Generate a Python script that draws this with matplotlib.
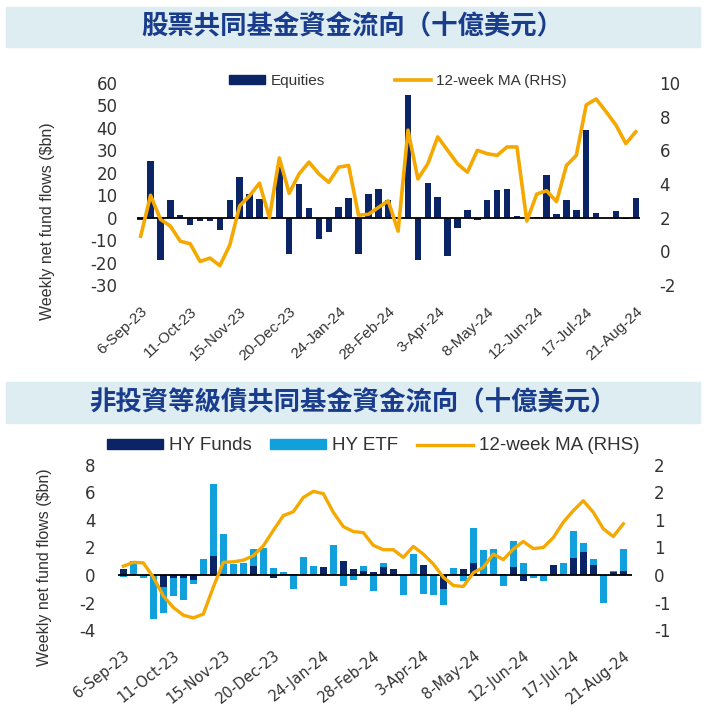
import numpy as np
import pandas as pd
from matplotlib import pyplot as plt
from matplotlib.patches import Rectangle
from matplotlib.lines import Line2D
from matplotlib.patches import Patch

plt.rcParams['axes.unicode_minus'] = False

# weekly dates, 6-Sep-23 .. 21-Aug-24
weeks = pd.date_range('2023-09-06', periods=51, freq='7D')
tick_labels = ['6-Sep-23', '11-Oct-23', '15-Nov-23', '20-Dec-23', '24-Jan-24', '28-Feb-24',
               '3-Apr-24', '8-May-24', '12-Jun-24', '17-Jul-24', '21-Aug-24']

# equity fund flows ($bn) and 12-week MA (RHS)
equities = [-1.2, 25.4, -18.7, 7.8, 1.2, -3.3, -1.5, -1.5, -5.4, 7.8,
            18.2, 10.7, 8.2, 0.5, 22.4, -16.4, 14.9, 4.5, -9.4, -6.4,
            4.9, 8.8, -16.4, 10.4, 12.7, 7.8, 0.3, 54.5, -18.7, 15.4,
            9.3, -17.2, -4.5, 3.6, -1.2, 7.8, 12.2, 12.8, 0.7, -0.3,
            0.2, 19.0, 1.5, 7.9, 3.3, 39.0, 2.2, -0.3, 3.0, -0.5, 8.7]
equities_ma = [0.9, 3.33, 1.9, 1.5, 0.6, 0.45, -0.6, -0.4, -0.85, 0.37,
               2.7, 3.3, 4.05, 2.0, 5.55, 3.45, 4.6, 5.3, 4.6, 4.1,
               5.0, 5.1, 2.15, 2.2, 2.6, 3.0, 1.2, 7.2, 4.3, 5.2,
               6.8, 6.0, 5.2, 4.7, 6.0, 5.8, 5.7, 6.2, 6.2, 1.8,
               3.4, 3.6, 2.95, 5.1, 5.7, 8.7, 9.05, 8.3, 7.5, 6.4, 7.1]

# high yield flows ($bn)
hy_funds = [0.45, 0.05, -0.05, -0.1, -0.9, -0.25, -0.25, -0.35, 0.05, 1.4,
            0.05, 0.1, 0.05, 0.68, 0.1, -0.2, 0.1, 0.1, 0.05, 0.1,
            0.6, 0.05, 1.0, 0.45, 0.3, 0.2, 0.55, 0.45, -0.05, 0.05,
            0.73, -0.05, -1.0, 0.1, 0.45, 0.85, 0.1, 0.05, 0.1, 0.6,
            -0.45, -0.05, -0.05, 0.73, 0.05, 1.25, 1.7, 0.73, -0.05, 0.25, 0.3]
hy_etf = [-0.15, 1.0, -0.15, -3.1, -1.85, -1.25, -1.55, -0.3, 1.1, 5.2,
          2.95, 0.7, 0.8, 1.2, 1.85, 0.5, 0.15, -1.05, 1.25, 0.55,
          0.0, 2.15, -0.8, -0.35, 0.38, -1.15, 0.35, -0.1, -1.4, 1.45,
          -1.4, -1.4, -1.2, 0.4, -0.4, 2.55, 1.75, 1.85, -0.8, 1.9,
          0.9, -0.2, -0.35, 0.0, 0.8, 1.95, 0.63, 0.42, -2.0, 0.05, 1.6]
hy_ma = [0.16, 0.23, 0.22, -0.04, -0.38, -0.59, -0.73, -0.78, -0.71, -0.22,
         0.23, 0.24, 0.27, 0.35, 0.53, 0.81, 1.08, 1.15, 1.41, 1.52,
         1.48, 1.14, 0.88, 0.79, 0.77, 0.54, 0.46, 0.46, 0.32, 0.52,
         0.38, 0.2, -0.04, -0.19, -0.21, 0.04, 0.14, 0.38, 0.28, 0.47,
         0.61, 0.48, 0.5, 0.68, 0.96, 1.17, 1.35, 1.14, 0.84, 0.7, 0.93]

navy = '#0b2466'
sky = '#12a0dc'
gold = '#f5a800'
title_col = '#1a3c8c'
banner_col = '#deedf2'
txt = '#333333'
sans = ['Liberation Sans', 'DejaVu Sans']
cjk = ['Noto Sans CJK TC', 'DejaVu Sans']

fig = plt.figure(figsize=(7.05, 7.11), dpi=100)
W, H = 705, 711


def fx(px):
    return px / W


def fy(py):
    return 1 - py / H


# title banners
for top, bot, title in [(7, 47, '股票共同基金資金流向（十億美元）'),
                        (382, 423, '非投資等級債共同基金資金流向（十億美元）')]:
    fig.patches.append(Rectangle((fx(6), fy(bot)), fx(694), (bot - top) / H,
                                 transform=fig.transFigure, color=banner_col, zorder=0))
    fig.text(0.5, fy((top + bot) / 2), title, ha='center', va='center', fontsize=19,
             fontweight='bold', color=title_col, family=cjk)

x = np.arange(len(weeks))

# ---- top chart: equities ----
ax1 = fig.add_axes([fx(137), fy(285), fx(640 - 137), (285 - 83) / H])
ax1.bar(x, equities, width=0.65, color=navy, zorder=2)
ax1.axhline(0, color='black', lw=1.3, zorder=3)
ax1.set_ylim(-30, 60)
ax1.set_yticks(range(-30, 61, 10))
ax1.set_xlim(-0.37, 50.43)
ax1b = ax1.twinx()
ax1b.plot(x, equities_ma, color=gold, lw=2.6, zorder=4)
ax1b.set_ylim(-2, 10)
ax1b.set_yticks(range(-2, 11, 2))

# ---- bottom chart: high yield ----
ax2 = fig.add_axes([fx(118), fy(630), fx(632 - 118), (630 - 465) / H])
funds = np.array(hy_funds)
etf = np.array(hy_etf)
etf_base = np.where(np.sign(etf) == np.sign(funds), funds, 0)
ax2.bar(x, funds, width=0.7, color=navy, zorder=3)
ax2.bar(x, etf, bottom=etf_base, width=0.7, color=sky, zorder=2)
ax2.axhline(0, color='black', lw=1.3, zorder=4)
ax2.set_ylim(-4, 8)
ax2.set_yticks(range(-4, 9, 2))
ax2.set_xlim(-0.53, 50.87)
ax2b = ax2.twinx()
ax2b.plot(x, hy_ma, color=gold, lw=2.4, zorder=5)
ax2b.set_ylim(-1, 2)
ax2b.set_yticks(np.arange(-1, 2.01, 0.5))
ax2b.set_yticklabels(['-1', '-1', '0', '1', '1', '2', '2'])

for a in [ax1, ax1b, ax2, ax2b]:
    for s in a.spines.values():
        s.set_visible(False)
    a.tick_params(length=0, colors=txt)

for a, pad, rot, fs, fam in [(ax1, 14, 43, 11, sans),
                             (ax2, 13, 38, 10.5, ['DejaVu Sans'])]:
    a.set_xticks(x[::5])
    a.set_xticklabels(tick_labels, rotation=rot, ha='right', va='top',
                      rotation_mode='anchor', fontsize=fs, color=txt, family=fam)
    a.tick_params(axis='x', pad=pad)

for lab in ax1.get_yticklabels() + ax1b.get_yticklabels():
    lab.set_fontsize(12)
ax1.tick_params(axis='y', pad=14)
ax1b.tick_params(axis='y', pad=14)
for lab in ax2.get_yticklabels() + ax2b.get_yticklabels():
    lab.set_fontsize(12)
ax2.tick_params(axis='y', pad=16)
ax2b.tick_params(axis='y', pad=16)

fig.text(fx(48), fy(221), 'Weekly net fund flows ($bn)', rotation=90, ha='center',
         va='center', fontsize=11.5, color=txt, family=sans)
fig.text(fx(45), fy(567), 'Weekly net fund flows ($bn)', rotation=90, ha='center',
         va='center', fontsize=11.5, color=txt, family=sans)

# legends
h1 = [Patch(color=navy), Line2D([], [], color=gold, lw=2.6)]
fig.legend(h1, ['Equities', '12-week MA (RHS)'], loc='center', bbox_to_anchor=(fx(398), fy(81)),
           ncol=2, frameon=False, prop={'family': sans, 'size': 11}, handlelength=2.35,
           handleheight=0.5, columnspacing=4.6, labelcolor=txt, handletextpad=0.35)
h2 = [Patch(color=navy), Patch(color=sky), Line2D([], [], color=gold, lw=2.4)]
fig.legend(h2, ['HY Funds', 'HY ETF', '12-week MA (RHS)'], loc='center',
           bbox_to_anchor=(fx(373), fy(446)), ncol=3, frameon=False,
           prop={'family': sans, 'size': 13.5},
           handlelength=3, handleheight=0.5, columnspacing=1.0, labelcolor=txt,
           handletextpad=0.3)

fig.savefig('out.png', dpi=100)
